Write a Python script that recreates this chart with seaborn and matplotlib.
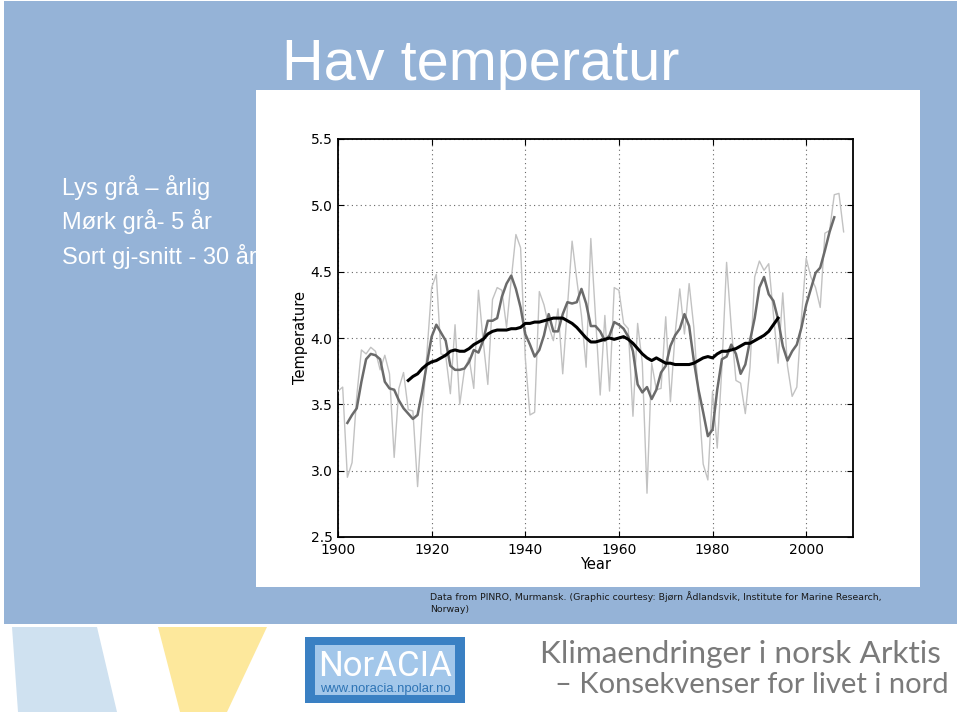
import matplotlib
matplotlib.use("Agg")
import matplotlib.pyplot as plt
from matplotlib.patches import Rectangle, Polygon
import seaborn as sns
import pandas as pd

# ---------------- data ----------------
annual_years = list(range(1900, 2009))
annual_temp = [
    3.60, 3.63, 2.95, 3.06, 3.56, 3.91, 3.88, 3.93, 3.90, 3.76,
    3.87, 3.73, 3.10, 3.62, 3.74, 3.46, 3.45, 2.88, 3.42, 3.89,
    4.38, 4.48, 3.88, 3.87, 3.58, 4.10, 3.50, 3.76, 3.85, 3.62,
    4.36, 3.98, 3.65, 4.29, 4.38, 4.36, 4.08, 4.44, 4.78, 4.68,
    3.85, 3.42, 3.44, 4.35, 4.25, 4.09, 3.98, 4.22, 3.73, 4.23,
    4.73, 4.44, 4.17, 3.78, 4.75, 4.16, 3.57, 4.17, 3.60, 4.38,
    4.36, 4.11, 4.07, 3.41, 4.11, 3.81, 2.83, 3.81, 3.61, 3.62,
    4.16, 3.52, 4.03, 4.37, 4.03, 4.41, 4.08, 3.56, 3.05, 2.93,
    3.60, 3.17, 3.78, 4.57, 4.08, 3.68, 3.66, 3.43, 3.78, 4.46,
    4.58, 4.51, 4.56, 4.18, 3.81, 4.34, 3.79, 3.56, 3.63, 4.16,
    4.60, 4.46, 4.38, 4.23, 4.79, 4.81, 5.08, 5.09, 4.80,
]

avg5_years = list(range(1902, 2007))
avg5_temp = [
    3.36, 3.42, 3.47, 3.67, 3.84, 3.88, 3.87, 3.84,
    3.67, 3.62, 3.61, 3.53, 3.47, 3.43, 3.39, 3.42, 3.60, 3.81,
    4.01, 4.10, 4.04, 3.98, 3.79, 3.76, 3.76, 3.77, 3.82, 3.91,
    3.89, 3.98, 4.13, 4.13, 4.15, 4.31, 4.41, 4.47, 4.37, 4.23,
    4.03, 3.95, 3.86, 3.91, 4.02, 4.18, 4.05, 4.05, 4.18, 4.27,
    4.26, 4.27, 4.37, 4.26, 4.09, 4.09, 4.05, 3.98, 4.02, 4.12,
    4.10, 4.07, 4.01, 3.90, 3.65, 3.59, 3.63, 3.54, 3.61, 3.74,
    3.79, 3.94, 4.02, 4.07, 4.18, 4.09, 3.83, 3.61, 3.44, 3.26,
    3.31, 3.61, 3.84, 3.86, 3.95, 3.88, 3.73, 3.80, 3.98, 4.15,
    4.38, 4.46, 4.33, 4.28, 4.14, 3.94, 3.83, 3.90, 3.95, 4.08,
    4.25, 4.37, 4.49, 4.53, 4.66, 4.80, 4.91,
]

avg30_years = list(range(1915, 1995))
avg30_temp = [
    3.68, 3.71, 3.73, 3.77, 3.80,
    3.82, 3.83, 3.85, 3.87, 3.90, 3.91, 3.90, 3.90, 3.92, 3.95,
    3.97, 3.99, 4.03, 4.05, 4.06, 4.06, 4.06, 4.07, 4.07, 4.08,
    4.11, 4.11, 4.12, 4.12, 4.13, 4.14, 4.15, 4.15, 4.15, 4.13,
    4.11, 4.08, 4.04, 4.00, 3.97, 3.97, 3.98, 3.99, 4.00, 3.99,
    4.00, 4.01, 3.99, 3.96, 3.92, 3.88, 3.85, 3.83, 3.85, 3.83,
    3.81, 3.81, 3.80, 3.80, 3.80, 3.80, 3.81, 3.83, 3.85, 3.86,
    3.85, 3.88, 3.90, 3.90, 3.91, 3.92, 3.94, 3.96, 3.96, 3.98,
    4.00, 4.02, 4.05, 4.10, 4.15,
]

x_ticks = [1900, 1920, 1940, 1960, 1980, 2000]
y_ticks = [2.5, 3.0, 3.5, 4.0, 4.5, 5.0, 5.5]

title_text = "Hav temperatur"
legend_lines = ["Lys grå – årlig", "Mørk grå- 5 år", "Sort gj-snitt - 30 år"]
caption_lines = ["Data from PINRO, Murmansk. (Graphic courtesy: Bjørn Ådlandsvik, Institute for Marine Research,",
                 "Norway)"]
footer_lines = ["Klimaendringer i norsk Arktis", "– Konsekvenser for livet i nord"]

df_a = pd.DataFrame({"Year": annual_years, "Temperature": annual_temp})
df_5 = pd.DataFrame({"Year": avg5_years, "Temperature": avg5_temp})
df_30 = pd.DataFrame({"Year": avg30_years, "Temperature": avg30_temp})

# ---------------- figure ----------------
W, H = 960, 716
fig = plt.figure(figsize=(W / 100, H / 100), dpi=100)
fig.patch.set_facecolor("white")

bg = fig.add_axes([0, 0, 1, 1])
bg.set_xlim(0, W)
bg.set_ylim(H, 0)
bg.axis("off")

SANS = ["Liberation Sans", "DejaVu Sans"]
FOOT = ["Lato", "Liberation Sans", "DejaVu Sans"]

bg.add_patch(Rectangle((4, 1), 953, 623, facecolor="#95b3d7", edgecolor="none", zorder=0))
t_title = bg.text(481, 80, title_text, ha="center", va="baseline", color="white",
                  fontsize=42, family=SANS, zorder=1)
leg_texts = []
for yb, s in zip([195, 229, 264], legend_lines):
    leg_texts.append(bg.text(62, yb, s, ha="left", va="baseline", color="white",
                             fontsize=16, family=SANS, zorder=1))

# white chart panel
bg.add_patch(Rectangle((256, 90), 664, 497, facecolor="white", edgecolor="none", zorder=2))

# caption
cap1 = bg.text(430, 600, caption_lines[0], ha="left", va="baseline", fontsize=6.8,
               family=["DejaVu Sans"], color="#1a1a1a", zorder=3)
cap2 = bg.text(430, 612, caption_lines[1], ha="left", va="baseline", fontsize=6.8,
               family=["DejaVu Sans"], color="#1a1a1a", zorder=3)

# footer shapes
bg.add_patch(Polygon([(12, 627), (97, 627), (117, 712), (18, 712)], closed=True,
                     facecolor="#cfe1f0", edgecolor="none", zorder=1))
bg.add_patch(Polygon([(158, 627), (267, 627), (227, 712), (180, 712)], closed=True,
                     facecolor="#fde89c", edgecolor="none", zorder=1))
bg.add_patch(Rectangle((305, 637), 160, 66, facecolor="#3a80c3", edgecolor="none", zorder=1))
bg.add_patch(Rectangle((315, 645), 140, 50, facecolor="#a3c7ea", edgecolor="none", zorder=2))
t_nor = bg.text(385, 676, "NorACIA", ha="center", va="baseline", color="white", fontsize=25,
                family=["Roboto", "Liberation Sans"], zorder=3)
t_www = bg.text(385, 692, "www.noracia.npolar.no", ha="center", va="baseline", color="#2e74b5",
                fontsize=9.2, family=SANS, zorder=3)
f1 = bg.text(540, 663, footer_lines[0], ha="left", va="baseline", color="#7a7a7a",
             fontsize=24, family=FOOT, fontweight="normal", zorder=3)
f2 = bg.text(555, 693, footer_lines[1], ha="left", va="baseline", color="#7a7a7a",
             fontsize=24, family=FOOT, fontweight="normal", zorder=3)

# ---------------- chart ----------------
left, right, top, bottom = 338, 853, 139, 537
ax = fig.add_axes([left / W, (H - bottom) / H, (right - left) / W, (bottom - top) / H])
ax.set_facecolor("white")

sns.lineplot(data=df_a, x="Year", y="Temperature", ax=ax, color="#c2c2c2",
             linewidth=1.0, zorder=3)
sns.lineplot(data=df_5, x="Year", y="Temperature", ax=ax, color="#6b6b6b",
             linewidth=1.8, zorder=4)
sns.lineplot(data=df_30, x="Year", y="Temperature", ax=ax, color="black",
             linewidth=2.2, zorder=5)

ax.set_xlim(1900, 2010)
ax.set_ylim(2.5, 5.5)
ax.set_xticks(x_ticks)
ax.set_xticklabels([str(v) for v in x_ticks])
ax.set_yticks(y_ticks)
ax.set_yticklabels([f"{v:.1f}" for v in y_ticks])
ax.grid(True, linestyle=(0, (1, 3)), color="#666666", linewidth=0.8, zorder=1)
ax.set_axisbelow(True)
ax.tick_params(direction="in", top=True, right=True, length=4, width=0.8,
               labelsize=10, pad=4)
for sp in ax.spines.values():
    sp.set_linewidth(1.3)
    sp.set_color("black")
ax.set_xlabel("Year", fontsize=10.5, labelpad=0)
ax.set_ylabel("Temperature", fontsize=10.5, labelpad=2)

# fit text widths to the reference layout
fig.canvas.draw()
renderer = fig.canvas.get_renderer()


def fit(t, width_px):
    bb = t.get_window_extent(renderer)
    t.set_fontsize(t.get_fontsize() * width_px / bb.width)


fit(t_title, 398)
fit(leg_texts[0], 148)
for t in leg_texts[1:]:
    t.set_fontsize(leg_texts[0].get_fontsize())
fit(cap1, 454)
cap2.set_fontsize(cap1.get_fontsize())
fit(t_nor, 134)
fit(t_www, 130)
fit(f1, 400)
fit(f2, 393)

fig.savefig("out.png", dpi=100, facecolor="white")
